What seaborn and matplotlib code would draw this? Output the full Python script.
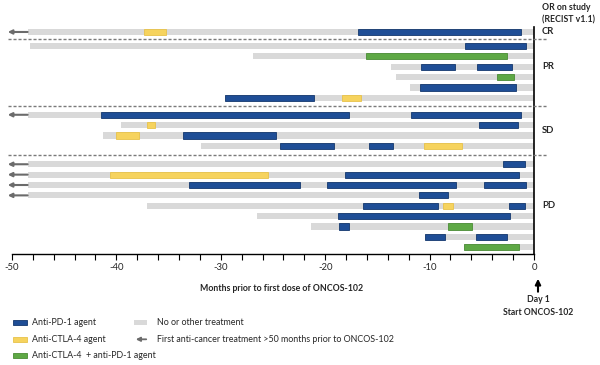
import numpy as np
import pandas as pd
import matplotlib
matplotlib.use("Agg")
import matplotlib.pyplot as plt
import seaborn as sns
from matplotlib.patches import Rectangle

# ------------------------------------------------------------------ data
groups = ["CR", "PR", "SD", "PD"]
group_sizes = [1, 6, 4, 9]

# start of the grey "no or other treatment" band (months before day 1)
gray_start = [-48.5, -48.3, -26.9, -13.7, -13.2, -11.9, -29.6,
              -48.5, -39.6, -41.3, -31.9,
              -48.5, -48.5, -48.5, -48.5, -37.1, -26.5, -21.4, -10.4, -6.7]
# first anti-cancer treatment > 50 months before ONCOS-102
before_50 = [True, False, False, False, False, False, False,
             True, False, False, False,
             True, True, True, True, False, False, False, False, False]

# treatment segments (patient row index, start, end, agent)
seg_patient = [0, 0, 1, 2, 3, 3, 4, 5, 6, 6,
               7, 7, 8, 8, 9, 9, 10, 10, 10,
               11, 12, 12, 13, 13, 13, 14, 15, 15, 15, 16, 17, 17, 18, 18, 19]
seg_start = [-37.4, -16.9, -6.6, -16.1, -10.8, -5.5, -3.5, -10.9, -29.6, -18.4,
             -41.5, -11.8, -37.1, -5.3, -40.0, -33.6, -24.3, -15.8, -10.5,
             -3.0, -40.6, -18.1, -33.0, -19.8, -4.8, -11.0, -16.4, -8.7, -2.4,
             -18.8, -18.7, -8.2, -10.4, -5.6, -6.7]
seg_end = [-35.2, -1.2, -0.8, -2.6, -7.6, -2.1, -1.9, -1.7, -21.1, -16.6,
           -17.7, -1.2, -36.3, -1.5, -37.8, -24.7, -19.2, -13.5, -6.9,
           -0.9, -25.5, -1.4, -22.4, -7.5, -0.8, -8.2, -9.2, -7.8, -0.9,
           -2.3, -17.7, -5.9, -8.5, -2.6, -1.4]
seg_agent = ["CTLA4", "PD1", "PD1", "COMBO", "PD1", "PD1", "COMBO", "PD1", "PD1", "CTLA4",
             "PD1", "PD1", "CTLA4", "PD1", "CTLA4", "PD1", "PD1", "PD1", "CTLA4",
             "PD1", "CTLA4", "PD1", "PD1", "PD1", "PD1", "PD1", "PD1", "CTLA4", "PD1",
             "PD1", "PD1", "COMBO", "PD1", "PD1", "COMBO"]

agent_labels = {"PD1": "Anti-PD-1 agent",
                "CTLA4": "Anti-CTLA-4 agent",
                "COMBO": "Anti-CTLA-4  + anti-PD-1 agent"}
x_ticks = [-50, -40, -30, -20, -10, 0]

# ------------------------------------------------------------------ style
sns.set_theme(style="white")
plt.rcParams["font.family"] = ["Lato", "DejaVu Sans"]
plt.rcParams["axes.unicode_minus"] = False

colors = {"PD1": "#1f4e96", "CTLA4": "#f6d35e", "COMBO": "#5ea845"}
edges = {"PD1": "#14386e", "CTLA4": "#e8c24a", "COMBO": "#4a8c35"}
gray = "#d9d9d9"
arrow_gray = "#6b6b6b"

W, H = 600, 365
fig = plt.figure(figsize=(W / 100, H / 100), dpi=100)
fx = lambda x: x / W
fy = lambda y: 1 - y / H

ax = fig.add_axes([fx(8), fy(254), (534 - 8) / W, (254 - 27) / H])

# row positions (layout): one unit per patient, extra gap between groups
gaps = [0.35, 0.63, 0.77]
ypos = []
y = 0.0
for g, n in enumerate(group_sizes):
    for _ in range(n):
        ypos.append(y)
        y += 1
    if g < len(gaps):
        y += gaps[g]
ypos = np.round(ypos, 4)

bar_h = 0.6

# grey background bands with seaborn (bars run from 0 to start)
bg = pd.DataFrame({"start": gray_start, "pos": ypos})
sns.barplot(data=bg, x="start", y="pos", orient="h", native_scale=True,
            color=gray, saturation=1, width=bar_h, errorbar=None,
            linewidth=0, edgecolor="none", ax=ax)

# treatment segments
seg = pd.DataFrame({"pat": seg_patient, "start": seg_start,
                    "end": seg_end, "agent": seg_agent})
seg["pos"] = ypos[seg["pat"].values]
for agent, d in seg.groupby("agent"):
    ax.barh(d["pos"], d["end"] - d["start"], left=d["start"], height=bar_h,
            color=colors[agent], edgecolor=edges[agent], linewidth=0.6, zorder=3)

# arrows for treatment > 50 months before
for p, flag in enumerate(before_50):
    if flag:
        ax.annotate("", xy=(-50.4, ypos[p]), xytext=(gray_start[p], ypos[p]),
                    arrowprops=dict(arrowstyle="-|>", color=arrow_gray, lw=1.5,
                                    mutation_scale=6, shrinkA=0, shrinkB=0),
                    annotation_clip=False, zorder=4)

# group separators
starts = np.cumsum([0] + group_sizes)
for g in range(1, len(group_sizes)):
    ysep = (ypos[starts[g] - 1] + ypos[starts[g]]) / 2
    ax.plot([-50.4, 1.25], [ysep, ysep], color="#7a7a7a", lw=1.0,
            dashes=(2.2, 1.4), clip_on=False, zorder=5)

# response labels
label_row = [0, 2, 1.5, 4]
for g, name in enumerate(groups):
    yl = ypos[starts[g]] + label_row[g]
    ax.text(0.75, yl, name, ha="left", va="center", fontsize=6.8,
            fontweight="bold", clip_on=False)

# axes styling
ax.set_xlim(-50.38, 0)
ax.set_ylim(21.4, -0.48)
ax.set_xlabel("")
ax.set_ylabel("")
ax.set_yticks([])
for s in ["top", "left"]:
    ax.spines[s].set_visible(False)
ax.spines["bottom"].set_bounds(-50, 0)
ax.spines["bottom"].set_color("black")
ax.spines["bottom"].set_linewidth(1.0)
ax.spines["right"].set_color("black")
ax.spines["right"].set_linewidth(1.2)
ax.set_xticks(x_ticks)
ax.set_xticklabels([str(t) for t in x_ticks])
ax.set_xticks(np.arange(-50, 1, 2), minor=True)
ax.tick_params(axis="x", which="both", direction="out", length=4, width=0.8,
               color="black", bottom=True, labelsize=6.8, pad=2.5)
ax.grid(False)

# figure texts
fig.text(fx(542), fy(14), "OR on study\n(RECIST v1.1)", ha="left", va="center",
         fontsize=6.3, fontweight="bold", linespacing=1.45)
fig.text(fx(282), fy(288.5), "Months prior to first dose of ONCOS-102",
         ha="center", va="center", fontsize=6.3, fontweight="bold")
fig.add_artist(matplotlib.patches.FancyArrowPatch(
    (fx(538), fy(294.5)), (fx(538), fy(276)), transform=fig.transFigure,
    arrowstyle="-|>", mutation_scale=8, color="black", lw=1.5))
fig.text(fx(538.5), fy(306), "Day 1\nStart ONCOS-102", ha="center", va="center",
         fontsize=6.2, fontweight="bold", linespacing=1.45)

# legend (manual)
leg_rows = [322.7, 339.3, 355.7]
for (agent, yy) in zip(["PD1", "CTLA4", "COMBO"], leg_rows):
    fig.add_artist(Rectangle((fx(12.7), fy(yy + 2.6)), 14 / W, 5.2 / H,
                             transform=fig.transFigure, facecolor=colors[agent],
                             edgecolor=edges[agent], linewidth=0.6))
    fig.text(fx(31.7), fy(yy), agent_labels[agent], ha="left", va="center",
             fontsize=6.4)
fig.add_artist(Rectangle((fx(134), fy(leg_rows[0] + 2.6)), 13.3 / W, 5.2 / H,
                         transform=fig.transFigure, facecolor=gray,
                         edgecolor="none"))
fig.text(fx(156.7), fy(leg_rows[0]), "No or other treatment", ha="left",
         va="center", fontsize=6.4)
fig.add_artist(matplotlib.patches.FancyArrowPatch(
    (fx(149), fy(leg_rows[1])), (fx(133), fy(leg_rows[1])),
    transform=fig.transFigure, arrowstyle="-|>", mutation_scale=6,
    color=arrow_gray, lw=1.3))
fig.text(fx(156.7), fy(leg_rows[1]),
         "First anti-cancer treatment >50 months prior to ONCOS-102",
         ha="left", va="center", fontsize=6.4)

fig.savefig("out.png", dpi=100)
